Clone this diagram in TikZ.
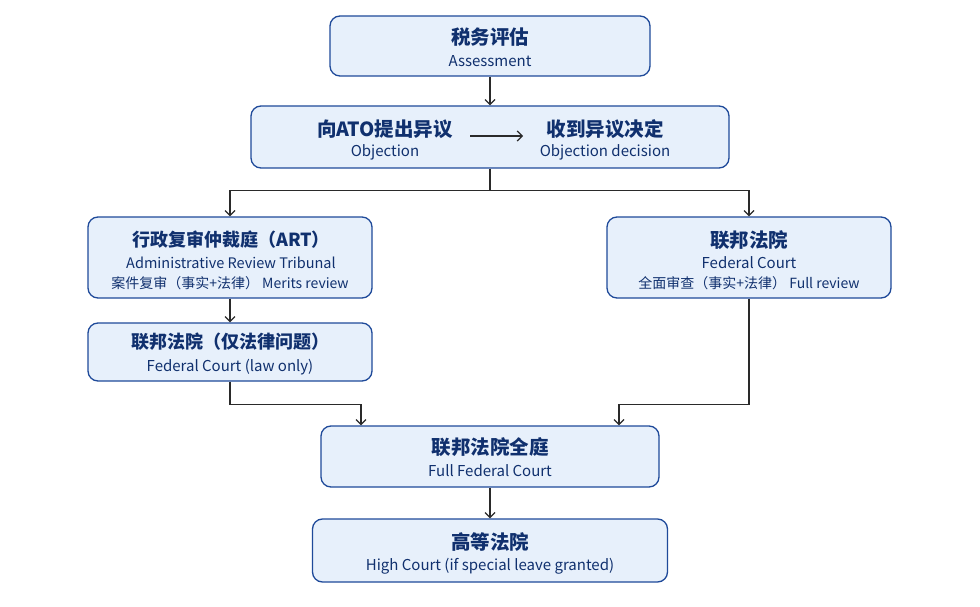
\documentclass[tikz,border=0pt]{standalone}
\usepackage{fontspec}
\setmainfont{Noto Sans CJK SC}
\usetikzlibrary{arrows.meta}
\definecolor{boxfill}{HTML}{E7F0FB}
\definecolor{boxline}{HTML}{1F4A9A}
\definecolor{txt}{HTML}{10306E}
\definecolor{arr}{HTML}{2A2A2A}
\begin{document}
\begin{tikzpicture}[x=1pt,y=-1pt,
 box/.style={draw=boxline, fill=boxfill, line width=1.3pt, rounded corners=10pt, inner sep=0},
 ttl/.style={text=txt, font=\fontsize{19.5}{22}\selectfont\bfseries, inner sep=0},
 ttlp/.style={text=txt, font=\fontsize{18}{20}\selectfont\bfseries, inner sep=0},
 eng/.style={text=txt, font=\fontsize{14.5}{16}\selectfont, inner sep=0},
 engw/.style={text=txt, font=\fontsize{15}{16}\selectfont, inner sep=0},
 sml/.style={text=txt, font=\fontsize{14}{16}\selectfont, inner sep=0},
 conn/.style={draw=arr, line width=1.2pt, -{Straight Barb[length=5pt,width=10pt]}},
 plain/.style={draw=arr, line width=1.2pt}]
\useasboundingbox (0,0) rectangle (980,607);
\fill[white] (0,0) rectangle (980,607);

% boxes
\node[box, minimum width=320pt, minimum height=60pt] (assess) at (490,46) {};
\node[box, minimum width=478pt, minimum height=62pt] (obj) at (490,137) {};
\node[box, minimum width=284pt, minimum height=81pt] (art) at (230,257.5) {};
\node[box, minimum width=284pt, minimum height=81pt] (fcr) at (749,257.5) {};
\node[box, minimum width=284pt, minimum height=58pt] (fcl) at (230,352) {};
\node[box, minimum width=338pt, minimum height=61pt] (full) at (490,456.5) {};
\node[box, minimum width=355pt, minimum height=63pt] (high) at (490,550.5) {};

% texts
\node[ttl] (t1) at (490,37) {税务评估};
\node[engw] (e1) at (490,61) {Assessment};
\node[ttl] (t2a) at (385,129) {向ATO提出异议};
\node[engw] (e2a) at (385,152) {Objection};
\node[ttl] (t2b) at (605,129) {收到异议决定};
\node[engw] (e2b) at (605,152) {Objection decision};
\node[ttlp] (t3) at (231,240) {行政复审仲裁庭（ART）};
\node[eng] (e3) at (231,263) {Administrative Review Tribunal};
\node[sml] (s3) at (230,283) {案件复审（事实+法律）\ Merits review};
\node[ttl] (t4) at (749,240) {联邦法院};
\node[engw] (e4) at (749,263) {Federal Court};
\node[sml] (s4) at (749,283) {全面审查（事实+法律）\ Full review};
\node[ttlp] (t5) at (230,342) {联邦法院（仅法律问题）};
\node[engw] (e5) at (230,367) {Federal Court (law only)};
\node[ttl] (t6) at (490,447) {联邦法院全庭};
\node[engw] (e6) at (490,471) {Full Federal Court};
\node[ttl] (t7) at (490,542) {高等法院};
\node[engw] (e7) at (490,566) {High Court (if special leave granted)};

% connectors
\coordinate (ia) at (470,136);
\coordinate (ib) at (523,136);
\draw[conn] (ia) -- (ib);
\draw[conn] (assess.south) -- (obj.north);
\draw[plain] (obj.south) -- ++(0,22) coordinate (split);
\draw[conn] (split) -| (art.north);
\draw[conn] (split) -| (fcr.north);
\draw[conn] (art.south) -- (fcl.north);
\coordinate (fl) at ([xshift=-129pt]full.north);
\coordinate (fr) at ([xshift=129pt]full.north);
\draw[conn] (fcl.south) -- ++(0,23) -| (fl);
\draw[conn] (fcr.south) -- ++(0,106) -| (fr);
\draw[conn] (full.south) -- (high.north);
\end{tikzpicture}
\end{document}
